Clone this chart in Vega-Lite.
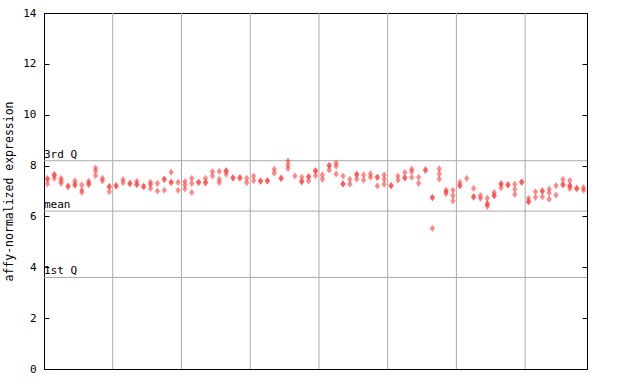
{
  "$schema": "https://vega.github.io/schema/vega-lite/v6.json",
  "width": 543,
  "height": 356,
  "autosize": {"type": "none"},
  "padding": {"left": 44, "top": 13, "right": 53, "bottom": 15},
  "background": "white",
  "config": {
    "view": {"stroke": "black", "strokeWidth": 1},
    "font": "DejaVu Sans Mono"
  },
  "datasets": {
    "pts": [
      {"s":0,"v":7.5},{"s":0,"v":7.45},{"s":0,"v":7.28},
      {"s":1,"v":7.65},{"s":1,"v":7.62},{"s":1,"v":7.5},
      {"s":2,"v":7.5},{"s":2,"v":7.4},{"s":2,"v":7.3},
      {"s":3,"v":7.2},{"s":3,"v":7.17},
      {"s":4,"v":7.4},{"s":4,"v":7.28},{"s":4,"v":7.22},
      {"s":5,"v":7.24},{"s":5,"v":7.04},{"s":5,"v":6.95},
      {"s":6,"v":7.38},{"s":6,"v":7.3},{"s":6,"v":7.25},
      {"s":7,"v":7.9},{"s":7,"v":7.78},{"s":7,"v":7.6},
      {"s":8,"v":7.5},{"s":8,"v":7.4},
      {"s":9,"v":7.18},{"s":9,"v":7.16},{"s":9,"v":6.97},
      {"s":10,"v":7.22},{"s":10,"v":7.19},
      {"s":11,"v":7.45},{"s":11,"v":7.33},
      {"s":12,"v":7.31},{"s":12,"v":7.28},
      {"s":13,"v":7.38},{"s":13,"v":7.27},{"s":13,"v":7.25},
      {"s":14,"v":7.19},{"s":14,"v":7.16},
      {"s":15,"v":7.34},{"s":15,"v":7.26},{"s":15,"v":7.1},
      {"s":16,"v":7.3},{"s":16,"v":7.0},
      {"s":17,"v":7.47},{"s":17,"v":7.45},{"s":17,"v":7.03},
      {"s":18,"v":7.74},{"s":18,"v":7.35},{"s":18,"v":7.33},
      {"s":19,"v":7.34},{"s":19,"v":7.03},
      {"s":20,"v":7.37},{"s":20,"v":7.24},{"s":20,"v":7.08},
      {"s":21,"v":7.5},{"s":21,"v":7.3},{"s":21,"v":6.95},
      {"s":22,"v":7.35},{"s":22,"v":7.33},
      {"s":23,"v":7.5},{"s":23,"v":7.34},{"s":23,"v":7.32},
      {"s":24,"v":7.76},{"s":24,"v":7.59},
      {"s":25,"v":7.77},{"s":25,"v":7.46},{"s":25,"v":7.33},
      {"s":26,"v":7.8},{"s":26,"v":7.78},{"s":26,"v":7.66},
      {"s":27,"v":7.53},{"s":27,"v":7.51},
      {"s":28,"v":7.53},{"s":28,"v":7.51},
      {"s":29,"v":7.5},{"s":29,"v":7.33},
      {"s":30,"v":7.59},{"s":30,"v":7.41},
      {"s":31,"v":7.4},{"s":31,"v":7.38},
      {"s":32,"v":7.41},{"s":32,"v":7.39},
      {"s":33,"v":7.86},{"s":33,"v":7.7},
      {"s":34,"v":7.51},{"s":34,"v":7.49},
      {"s":35,"v":8.18},{"s":35,"v":8.02},{"s":35,"v":7.89},
      {"s":36,"v":7.59},
      {"s":37,"v":7.54},{"s":37,"v":7.38},{"s":37,"v":7.36},
      {"s":38,"v":7.57},{"s":38,"v":7.55},{"s":38,"v":7.39},
      {"s":39,"v":7.8},{"s":39,"v":7.78},{"s":39,"v":7.6},
      {"s":40,"v":7.63},{"s":40,"v":7.46},
      {"s":41,"v":8.01},{"s":41,"v":7.99},{"s":41,"v":7.83},
      {"s":42,"v":8.11},{"s":42,"v":7.98},{"s":42,"v":7.67},
      {"s":43,"v":7.59},{"s":43,"v":7.29},{"s":43,"v":7.27},
      {"s":44,"v":7.46},{"s":44,"v":7.27},
      {"s":45,"v":7.66},{"s":45,"v":7.64},{"s":45,"v":7.47},
      {"s":46,"v":7.63},{"s":46,"v":7.43},
      {"s":47,"v":7.67},{"s":47,"v":7.54},
      {"s":48,"v":7.55},{"s":48,"v":7.53},{"s":48,"v":7.2},
      {"s":49,"v":7.63},{"s":49,"v":7.46},{"s":49,"v":7.27},
      {"s":50,"v":7.22},{"s":50,"v":7.2},
      {"s":51,"v":7.59},{"s":51,"v":7.43},
      {"s":52,"v":7.73},{"s":52,"v":7.53},{"s":52,"v":7.51},
      {"s":53,"v":7.86},{"s":53,"v":7.76},{"s":53,"v":7.54},
      {"s":54,"v":7.54},{"s":54,"v":7.3},
      {"s":55,"v":7.84},{"s":55,"v":7.81},
      {"s":56,"v":6.75},{"s":56,"v":6.73},{"s":56,"v":5.53},
      {"s":57,"v":7.87},{"s":57,"v":7.67},{"s":57,"v":7.47},
      {"s":58,"v":7.03},{"s":58,"v":6.97},{"s":58,"v":6.9},
      {"s":59,"v":7.03},{"s":59,"v":6.82},{"s":59,"v":6.61},
      {"s":60,"v":7.34},{"s":60,"v":7.22},{"s":60,"v":7.2},
      {"s":61,"v":7.5},
      {"s":62,"v":7.1},{"s":62,"v":6.78},{"s":62,"v":6.76},
      {"s":63,"v":6.82},{"s":63,"v":6.71},
      {"s":64,"v":6.71},{"s":64,"v":6.5},{"s":64,"v":6.48},{"s":64,"v":6.39},
      {"s":65,"v":6.95},{"s":65,"v":6.83},{"s":65,"v":6.81},
      {"s":66,"v":7.29},{"s":66,"v":7.27},{"s":66,"v":7.13},
      {"s":67,"v":7.25},{"s":67,"v":7.23},
      {"s":68,"v":7.27},{"s":68,"v":7.07},{"s":68,"v":6.87},
      {"s":69,"v":7.36},{"s":69,"v":7.34},
      {"s":70,"v":6.71},{"s":70,"v":6.59},{"s":70,"v":6.57},
      {"s":71,"v":6.97},{"s":71,"v":6.75},
      {"s":72,"v":7.01},{"s":72,"v":6.99},{"s":72,"v":6.77},
      {"s":73,"v":7.07},{"s":73,"v":6.92},{"s":73,"v":6.68},
      {"s":74,"v":7.21},{"s":74,"v":6.84},
      {"s":75,"v":7.46},{"s":75,"v":7.26},{"s":75,"v":7.24},
      {"s":76,"v":7.41},{"s":76,"v":7.22},{"s":76,"v":7.2},{"s":76,"v":7.1},
      {"s":77,"v":7.11},{"s":77,"v":7.09},
      {"s":78,"v":7.13},{"s":78,"v":7.03}
    ],
    "vlines": [{"x":9.5},{"x":19.5},{"x":29.5},{"x":39.5},{"x":49.5},{"x":59.5},{"x":69.5}],
    "refs": [
      {"label":"3rd Q","v":8.19},
      {"label":"mean","v":6.21},
      {"label":"1st Q","v":3.6}
    ]
  },
  "resolve": {"axis": {"y": "independent"}},
  "layer": [
    {
      "data": {"name": "vlines"},
      "mark": {"type": "rule", "color": "#aaaaaa", "strokeWidth": 1},
      "encoding": {
        "x": {"field": "x", "type": "quantitative", "scale": {"domain": [-0.5, 78.5], "nice": false, "zero": false}, "axis": null}
      }
    },
    {
      "data": {"name": "refs"},
      "mark": {"type": "rule", "color": "#aaaaaa", "strokeWidth": 1},
      "encoding": {
        "y": {"field": "v", "type": "quantitative", "scale": {"domain": [0, 14], "nice": false},
          "axis": {"orient": "right", "values": [0,2,4,6,8,10,12,14], "labels": false, "title": null, "tickSize": -5, "tickColor": "black", "domainColor": "black", "grid": false}}
      }
    },
    {
      "data": {"name": "refs"},
      "mark": {"type": "text", "align": "left", "baseline": "bottom", "dy": -1, "fontSize": 11, "font": "DejaVu Sans Mono", "color": "black"},
      "encoding": {
        "x": {"datum": -0.5, "type": "quantitative"},
        "y": {"field": "v", "type": "quantitative", "axis": null},
        "text": {"field": "label"}
      }
    },
    {
      "data": {"name": "pts"},
      "mark": {"type": "point", "shape": "M-0.72,0L0,-1L0.72,0L0,1Z", "filled": true, "size": 52, "color": "#ff3c3c", "opacity": 0.6},
      "encoding": {
        "x": {"field": "s", "type": "quantitative"},
        "y": {"field": "v", "type": "quantitative",
          "axis": {"orient": "left", "title": "affy-normalized expression", "values": [0,2,4,6,8,10,12,14], "tickSize": -5, "labelPadding": 13, "tickColor": "black", "domainColor": "black", "grid": false, "labelFont": "DejaVu Sans Mono", "labelFontSize": 11, "labelColor": "black", "titleFont": "DejaVu Sans Mono", "titleFontSize": 11.5, "titleFontWeight": "normal", "titleColor": "black", "titlePadding": 8}}
      }
    }
  ]
}
